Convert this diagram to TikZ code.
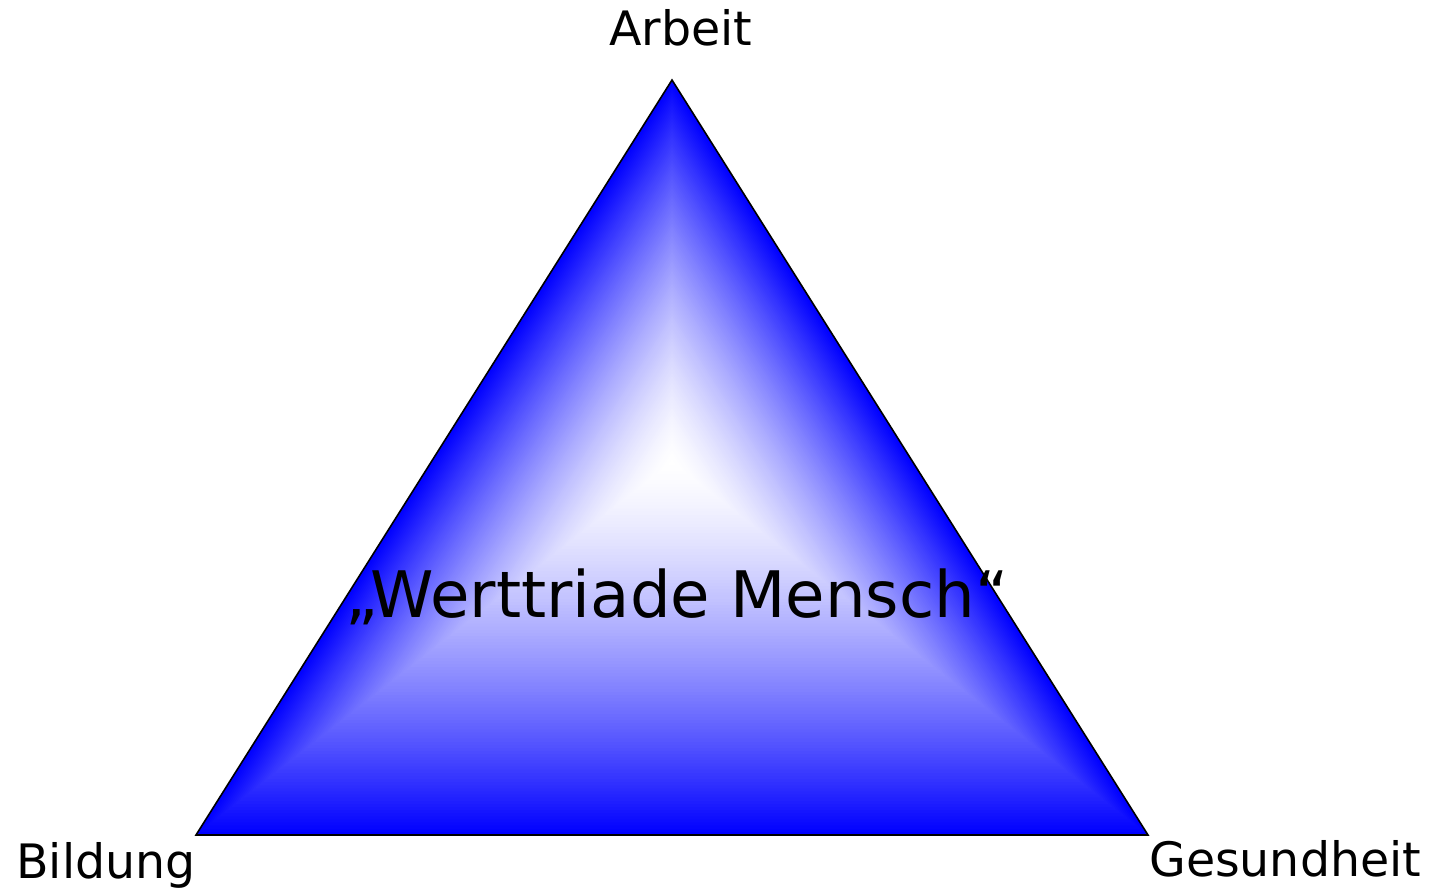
\documentclass[tikz,border=0pt]{standalone}
\usepackage{fontspec}
\setmainfont{DejaVu Sans}
\usetikzlibrary{calc,positioning}

\begin{document}
\begin{tikzpicture}[
  x=0.02cm, y=-0.02cm,
  corner/.style={font=\fontsize{27}{32}\selectfont, inner sep=2pt},
  title/.style={font=\fontsize{36.5}{42}\selectfont, inner sep=0pt},
  rim/.style={draw=black, line width=0.9pt, line join=miter}
]
\useasboundingbox (0,0) rectangle (1434,891);

\coordinate (top) at (672,80);
\coordinate (left) at (196,835);
\coordinate (right) at (1148,835);
\coordinate (mid) at (672,462);

% shading: nested triangles shrinking towards the bright spot
\foreach \i in {0,...,119} {
  \pgfmathsetmacro\s{1-\i/120}
  \pgfmathsetmacro\p{100*\s^1.45}
  \fill[blue!\p!white] ($(mid)!\s!(top)$) -- ($(mid)!\s!(right)$) -- ($(mid)!\s!(left)$) -- cycle;
}
\draw[rim] (top) -- (right) -- (left) -- cycle;

\node[corner, anchor=south, xshift=5pt, yshift=17pt] (arbeit) at (top) {Arbeit};
\node[corner, anchor=north east, xshift=2pt, yshift=-2pt] (bildung) at (left) {Bildung};
\node[corner, anchor=north west, xshift=-1.5pt, yshift=-1pt] (gesundheit) at (right) {Gesundheit};
\node[title, anchor=base] (werttriade) at (677,618) {„Werttriade Mensch“};
\end{tikzpicture}
\end{document}
